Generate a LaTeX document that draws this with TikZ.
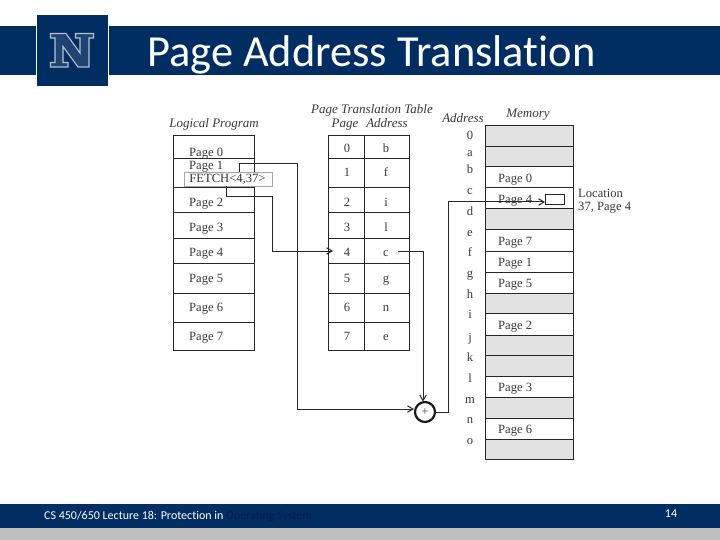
\documentclass[tikz,border=0pt]{standalone}
\usepackage{fontspec}
\setmainfont{Liberation Serif}
\newfontfamily\slidefont[Ligatures=NoCommon]{Carlito}
\usetikzlibrary{arrows.meta}
\definecolor{navy}{HTML}{002E62}
\definecolor{footgray}{HTML}{BFBFBF}
\definecolor{memgray}{HTML}{E2E2E2}
\definecolor{inkgray}{HTML}{3A3A3A}
\definecolor{logoline}{HTML}{B4C1D2}
\definecolor{logofill}{HTML}{1F4474}
\definecolor{darktext}{HTML}{0A1A50}
\tikzset{
  x=1pt,y=-1pt,
  rowbox/.style={draw=black!85,line width=1pt,inner sep=0pt,outer sep=0pt},
  caption/.style={inner sep=0pt,text=inkgray,anchor=base,font=\fontsize{13}{13}\selectfont\itshape},
  plain/.style={inner sep=0pt,text=inkgray,yshift=-2pt,font=\fontsize{12.6}{12.5}\selectfont},
  pagetext/.style={plain,anchor=mid west},
  celltext/.style={plain,anchor=mid},
  wire/.style={draw=black!85,line width=1pt},
  wirearrow/.style={wire,-{Straight Barb[length=5.5pt,width=6.5pt,line width=1pt]}},
}
% x1 x2 y1 y2 fill name
\newcommand{\rowcell}[6]{%
  \node[rowbox,fill=#5,minimum width=#2pt-#1pt,minimum height=#4pt-#3pt,anchor=north west] (#6) at (#1,#3) {};}
\begin{document}
\begin{tikzpicture}
\useasboundingbox (0,0) rectangle (720,540);
\fill[white] (0,0) rectangle (720,540);
% header
\fill[navy] (0,26) rectangle (36,75);
\fill[navy] (109,26) rectangle (720,75);
\fill[navy] (37,15) rectangle (108,86);
\draw[line width=1.1pt,draw=logoline,fill=logofill,line join=miter]
  (50.5,33.5) -- (66,33.5) -- (80,53) -- (80,38) -- (75.5,38) -- (75.5,33.5) -- (93.5,33.5) -- (93.5,38) -- (89,38)
  -- (89,67) -- (78,67) -- (63,46.5) -- (63,62.5) -- (68,62.5) -- (68,67) -- (50.5,67) -- (50.5,62.5) -- (55,62.5)
  -- (55,38) -- (50.5,38) -- cycle;
\node[anchor=base west,inner sep=0pt,text=white,font=\slidefont\fontsize{44.4}{44.4}\selectfont] (title) at (147,66.5) {Page Address Translation};
% footer
\fill[navy] (0,504) rectangle (720,528);
\fill[footgray] (0,528) rectangle (720,540);
\node[anchor=base west,inner sep=0pt,text=white,font=\slidefont\fontsize{12}{12}\selectfont] (foot) at (44,519) {CS 450/650 Lecture 18: Protection in \textcolor{darktext}{Operating System}};
\node[inner sep=0pt,text=white,font=\slidefont\fontsize{12}{12}\selectfont] (pnum) at (671,513.5) {14};
% captions
\node[caption] (capl) at (214,128) {Logical Program};
\node[caption] (capt) at (372,114) {Page Translation Table};
\node[caption] (capp) at (345,128) {Page};
\node[caption] (capa) at (387,128) {Address};
\node[caption] (capb) at (463,123) {Address};
\node[caption] (capm) at (528,118) {Memory};
% logical program
\foreach \ya/\yb/\n in {136/159/0,159/188/1,188/213/2,213/238.5/3,238.5/263/4,263/293/5,293/322/6,322/350/7}{
  \rowcell{173.5}{254.5}{\ya}{\yb}{white}{lp\n}
}
\foreach \n/\y in {0/152.5,1/165,2/202.5,3/227.5,4/252.5,5/278.5,6/307.5,7/336}{
  \node[pagetext] (lpt\n) at (189,\y) {Page \n};
}
\node[draw=black!35,fill=white,line width=0.7pt,inner sep=0pt,minimum width=88pt,minimum height=14.5pt,anchor=north west,text=black!80,font=\fontsize{12.6}{12.6}\selectfont,text width=78pt,align=left] (fetch) at (184,172) {FETCH<4,37>};
% translation table
\foreach \ya/\yb/\n in {136/159/0,159/188/1,188/213/2,213/238.5/3,238.5/263/4,263/293/5,293/322/6,322/350/7}{
  \rowcell{328}{364}{\ya}{\yb}{white}{tp\n}
  \rowcell{364}{409}{\ya}{\yb}{white}{ta\n}
}
\foreach \n/\a/\y in {0/b/148.5,1/f/172.5,2/i/202.5,3/l/227.5,4/c/252.5,5/g/278.5,6/n/307.5,7/e/336}{
  \node[celltext] (tpt\n) at (347,\y) {\n};
  \node[celltext] (tat\n) at (386,\y) {\a};
}
% memory
\foreach \ya/\yb/\f/\n in {126/147/memgray/0,147/167/memgray/1,167/188/white/2,188/209/white/3,209/230/memgray/4,230/251/white/5,251/272/white/6,272/293/white/7,293/313/memgray/8,313/335/white/9,335/355/memgray/10,355/376/memgray/11,376/397/white/12,397/418/memgray/13,418/439/white/14,439/459/memgray/15}{
  \rowcell{485}{573}{\ya}{\yb}{\f}{m\n}
}
\foreach \n/\y in {0/178,4/199,7/241.5,1/262.5,5/283.5,2/325.5,3/387.5,6/429.5}{
  \node[pagetext] (mt\n) at (498,\y) {Page \n};
}
% addresses
\foreach \t/\y in {0/135,a/152,b/169,c/190,d/211,e/232,f/252,g/273,h/294,i/314,j/337,k/357,l/378,m/399,n/419,o/440}{
  \node[celltext] (ad\t) at (470,\y) {\t};
}
% target location
\node[draw=black!85,fill=white,line width=1pt,inner sep=0pt,minimum width=19pt,minimum height=10pt,anchor=north west] (target) at (545,194) {};
\node[plain,anchor=west,align=left] (loc) at (578,199) {Location\\37, Page 4};
% adder
\node[circle,draw=black!90,fill=white,line width=2.2pt,minimum size=20pt,inner sep=0pt,font=\fontsize{12}{12}\selectfont,text=inkgray] (plus) at (425,412) {+};
% free ends
\coordinate (fa) at (239,172);
\coordinate (fb) at (226,186.5);
\coordinate (into4) at (333,251);
\coordinate (outc) at (398,251);
% connectors
\draw[wirearrow] (fa) |- (297,164) |- (plus.west |- 0,409);
\draw[wirearrow] (fb) |- (272,197) |- (into4);
\draw[wirearrow] (outc) -| (423,401.5);
\draw[wirearrow] (plus.east) -| (448,202) -- (target.west |- 0,202);
\end{tikzpicture}
\end{document}
